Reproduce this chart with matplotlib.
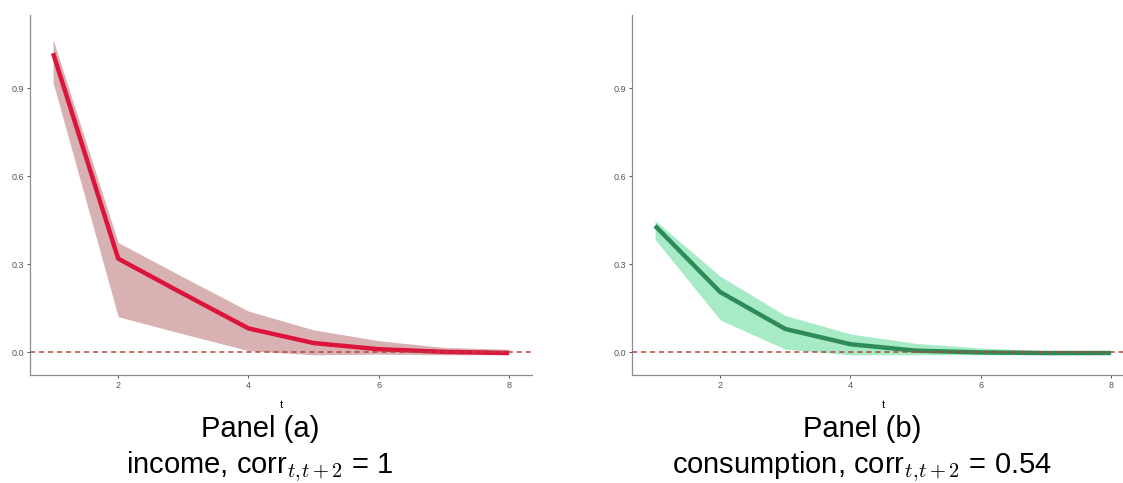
import matplotlib.pyplot as plt
import numpy as np

plt.rcParams['font.family'] = ['Liberation Sans', 'DejaVu Sans']
plt.rcParams['mathtext.fontset'] = 'cm'

t = [1, 2, 3, 4, 5, 6, 7, 8]

# panel (a): income
income_mid = [1.02, 0.319, 0.199, 0.081, 0.031, 0.010, 0.001, -0.003]
income_hi = [1.067, 0.374, 0.256, 0.140, 0.076, 0.039, 0.016, 0.010]
income_lo = [0.920, 0.121, 0.062, 0.005, -0.009, -0.007, -0.009, -0.009]

# panel (b): consumption
cons_mid = [0.431, 0.205, 0.079, 0.027, 0.005, -0.001, -0.003, -0.003]
cons_hi = [0.449, 0.259, 0.125, 0.062, 0.030, 0.014, 0.005, 0.002]
cons_lo = [0.385, 0.110, 0.010, -0.009, -0.009, -0.009, -0.009, -0.007]

y_ticks = [0.0, 0.3, 0.6, 0.9]
x_ticks = [2, 4, 6, 8]

W, H = 1123, 483
fig = plt.figure(figsize=(W / 100, H / 100), dpi=100)


def panel(left_px, mid, lo, hi, line_col, band_col, band_alpha, title, sub, text_x):
    ax = fig.add_axes([left_px / W, 1 - 375 / H, 502 / W, 360 / H])
    ax.fill_between(t, lo, hi, color=band_col, alpha=band_alpha, lw=0)
    ax.plot(t, mid, color=line_col, lw=3.2, solid_capstyle='butt')
    # zero line sits on top of the series
    ax.axhline(0, color='#B5443F', ls=(0, (3.3, 2.6)), lw=1.1, zorder=5)
    ax.set_xlim(0.646, 8.354)
    ax.set_ylim(-0.078, 1.15)
    ax.set_xticks(x_ticks)
    ax.set_yticks(y_ticks)
    ax.set_yticklabels([f'{v:.1f}' for v in y_ticks])
    for s in ['top', 'right']:
        ax.spines[s].set_visible(False)
    for s in ['left', 'bottom']:
        ax.spines[s].set_color('#8c8c8c')
        ax.spines[s].set_linewidth(0.9)
    ax.tick_params(labelsize=6.5, labelcolor='#555555', color='#555555', length=2.5, width=0.7, pad=2)
    ax.set_xlabel('t', fontsize=8, labelpad=7)
    fig.text(text_x / W, 1 - 429 / H, title, ha='center', va='center', fontsize=21)
    fig.text(text_x / W, 1 - 467 / H, sub, ha='center', va='center', fontsize=21)
    return ax


panel(30, income_mid, income_lo, income_hi, '#DC143C', '#B87476', 0.55,
      'Panel (a)', r'income, corr$_{t,\!t+2}$ = 1', 260)
panel(632, cons_mid, cons_lo, cons_hi, '#2E8B57', '#4ED68E', 0.5,
      'Panel (b)', r'consumption, corr$_{t,\!t+2}$ = 0.54', 862)

fig.savefig('out.png', dpi=100)
